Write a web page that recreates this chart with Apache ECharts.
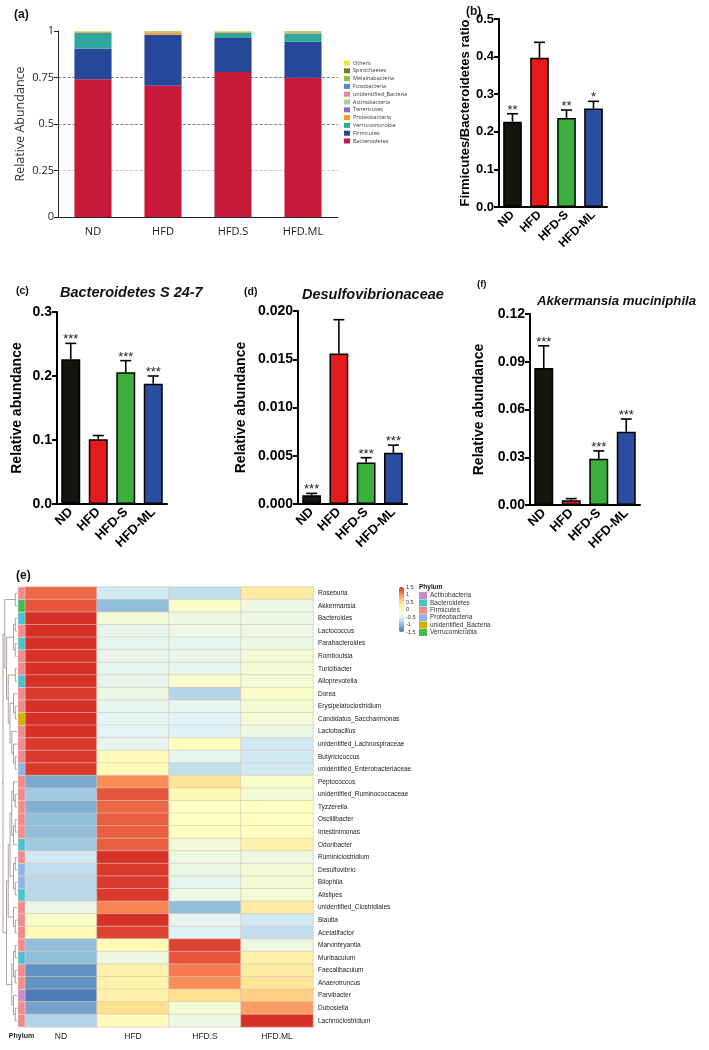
<!DOCTYPE html>
<html><head><meta charset="utf-8">
<script src="https://cdn.jsdelivr.net/npm/echarts@6/dist/echarts.min.js"></script>
<style>html,body{margin:0;padding:0;background:#fff}#c{width:709px;height:1050px}</style>
</head><body><div id="c"></div><script>
// ---------- DATA ----------
const groupsA = ['ND','HFD','HFD.S','HFD.ML'];
const groupsB = ['ND','HFD','HFD-S','HFD-ML'];
const phylaA = ['Bacteroidetes','Firmicutes','Verrucomicrobia','Proteobacteria','Tenericutes','Actinobacteria','unidentified_Bacteria','Fusobacteria','Melainabacteria','Spirochaetes','Others'];
const abundBacteroidetes = [0.740,0.705,0.780,0.748];
const abundFirmicutes = [0.165,0.273,0.182,0.194];
const abundVerrucomicrobia = [0.085,0.002,0.028,0.044];
const abundProteobacteria = [0.004,0.012,0.004,0.006];
const abundTenericutes = [0.001,0.001,0.001,0.001];
const abundActinobacteria = [0.001,0.002,0.001,0.002];
const abundUnidentified = [0.001,0.001,0.001,0.001];
const abundFusobacteria = [0.0005,0.0005,0.0005,0.0005];
const abundMelainabacteria = [0.001,0.001,0.001,0.001];
const abundSpirochaetes = [0.0005,0.0005,0.0005,0.0005];
const abundOthers = [0.003,0.004,0.003,0.003];

const ratioVals = [0.227,0.397,0.237,0.262];
const ratioErr = [0.021,0.041,0.021,0.019];
const ratioStars = ['**','','**','*'];
const s247Vals = [0.226,0.101,0.206,0.188];
const s247Err = [0.025,0.006,0.018,0.012];
const s247Stars = ['***','','***','***'];
const desulfoVals = [0.0009,0.0156,0.0043,0.0053];
const desulfoErr = [0.0002,0.0035,0.0005,0.0008];
const desulfoStars = ['***','','***','***'];
const akkVals = [0.086,0.003,0.029,0.046];
const akkErr = [0.014,0.001,0.005,0.008];
const akkStars = ['***','','***','***'];

const genera = ['Roseburia','Akkermansia','Bacteroides','Lactococcus','Parabacteroides','Romboutsia','Turicibacter','Alloprevotella','Dorea','Erysipelatoclostridium','Candidatus_Saccharimonas','Lactobacillus','unidentified_Lachnospiraceae','Butyricicoccus','unidentified_Enterobacteriaceae','Peptococcus','unidentified_Ruminococcaceae','Tyzzerella','Oscillibacter','Intestinimonas','Odoribacter','Ruminiclostridium','Desulfovibrio','Bilophila','Alistipes','unidentified_Clostridiales','Blautia','Acetatifactor','Marvinbryantia','Muribaculum','Faecalibaculum','Anaerotruncus','Parvibacter','Dubosiella','Lachnoclostridium'];
const zND   = [1.2,1.3,1.5,1.5,1.5,1.5,1.5,1.5,1.45,1.5,1.5,1.5,1.45,1.45,1.45,-1.15,-0.9,-1.1,-1.0,-1.0,-0.9,-0.6,-0.7,-0.75,-0.75,-0.35,-0.1,0.05,-1.0,-1.0,-1.3,-1.3,-1.45,-1.2,-0.8];
const zHFD  = [-0.6,-1.0,-0.2,-0.4,-0.4,-0.4,-0.4,-0.4,-0.3,-0.4,-0.45,-0.45,-0.4,0.05,0.05,1.0,1.3,1.2,1.25,1.25,1.25,1.5,1.45,1.45,1.45,1.05,1.5,1.4,0.1,-0.3,0.2,0.2,0.2,0.5,0.05];
const zHFDS = [-0.7,-0.1,-0.3,-0.3,-0.4,-0.4,-0.4,-0.1,-0.8,-0.4,-0.5,-0.5,0.0,-0.4,-0.7,0.4,0.1,0.0,0.0,0.0,-0.2,-0.3,-0.3,-0.4,-0.3,-1.0,-0.4,-0.5,1.4,1.3,1.1,1.0,0.5,-0.2,-0.3];
const zHFDML= [0.3,-0.3,-0.3,-0.3,-0.3,-0.2,-0.2,-0.2,-0.1,-0.2,-0.2,-0.3,-0.6,-0.6,-0.6,-0.1,-0.2,0.0,0.0,0.0,0.2,-0.3,-0.2,-0.2,-0.2,0.3,-0.6,-0.7,-0.3,0.2,0.3,0.4,0.6,0.9,1.5];
const rowPhylum = ['F','V','B','F','B','F','F','B','F','F','U','F','F','F','P','F','F','F','F','F','B','F','P','P','B','F','F','F','F','B','F','F','A','F','F'];
const phylumCodes = ['A','B','F','P','U','V'];
const phylumNames = ['Actinobacteria','Bacteroidetes','Firmicutes','Proteobacteria','unidentified_Bacteria','Verrucomicrobia'];
const dendroTree = [[[0,1],[[[2,3],[4,5]],[[6,7],[[8,[9,10]],[11,[12,[13,14]]]]]]],
  [[[[[15,[16,17]],[[18,19],20]],[[21,22],[23,24]]],[25,[26,27]]],[[[28,29],[30,31]],[32,[33,34]]]]];
const scaleTicks = [-1.5,1.5,0.5];

// ---------- STYLE ----------
const FONT = '"Liberation Sans", Arial, sans-serif';
const FONT_A = '"Open Sans", "Noto Sans", sans-serif';
const colorsA = {Bacteroidetes:'#c8193a',Firmicutes:'#26479a',Verrucomicrobia:'#2fa79f',Proteobacteria:'#f39a1e',Tenericutes:'#8a69bd',Actinobacteria:'#a5d69a',unidentified_Bacteria:'#ea8a8e',Fusobacteria:'#4a8fd0',Melainabacteria:'#8cc53e',Spirochaetes:'#787a22',Others:'#f2e532'};
const abundByPhylum = {Bacteroidetes:abundBacteroidetes,Firmicutes:abundFirmicutes,Verrucomicrobia:abundVerrucomicrobia,Proteobacteria:abundProteobacteria,Tenericutes:abundTenericutes,Actinobacteria:abundActinobacteria,unidentified_Bacteria:abundUnidentified,Fusobacteria:abundFusobacteria,Melainabacteria:abundMelainabacteria,Spirochaetes:abundSpirochaetes,Others:abundOthers};
const barColors = ['#15150d','#e41b1b','#3cae3c','#2b4ea0'];
const phylumColors = {A:'#c98cc8',B:'#4cc2cc',F:'#f08c8c',P:'#8fb4e3',U:'#d4b000',V:'#4cb84c'};
const pheat = ['#4575B4','#91BFDB','#E0F3F8','#FFFFBF','#FEE090','#FC8D59','#D73027'];

const grid = [
  {left:58, top:31, width:280, height:186},
  {left:499, top:19, width:108, height:188},
  {left:57, top:312, width:110, height:192},
  {left:298, top:311, width:109, height:193},
  {left:530, top:314, width:110, height:191},
  {left:25, top:587, width:288, height:440},
  {left:18, top:587, width:7, height:440},
  {left:2, top:587, width:15, height:440},
  {left:399, top:587, width:5, height:45}
];
const xAxis = [], yAxis = [], series = [];

// panel a
xAxis.push({gridIndex:0, type:'category', data:groupsA,
  axisLine:{lineStyle:{color:'#222'}}, axisTick:{length:5, lineStyle:{color:'#222'}},
  axisLabel:{fontSize:11, color:'#222', fontFamily:FONT_A, margin:9}});
yAxis.push({gridIndex:0, type:'value', min:0, max:1, interval:0.25,
  axisLine:{show:true, lineStyle:{color:'#222'}}, axisTick:{show:true, length:4, lineStyle:{color:'#222'}},
  axisLabel:{fontSize:11, color:'#222', fontFamily:FONT_A, margin:4},
  splitLine:{show:true, lineStyle:{type:'dashed', width:0.8, color:['rgba(0,0,0,0)','#bbb','#666','#666','rgba(0,0,0,0)']}},
  name:'Relative Abundance', nameLocation:'middle', nameGap:31,
  nameTextStyle:{fontSize:12.5, color:'#333', fontFamily:FONT_A}});
phylaA.forEach(p => series.push({name:p, type:'bar', stack:'a', xAxisIndex:0, yAxisIndex:0,
  barWidth:'53%', data:abundByPhylum[p], itemStyle:{color:colorsA[p]}, emphasis:{disabled:true}}));

// bar panels
function barPanel(gi, vals, errs, stars, yMax, interval, dec, yName, nameGap, lblSize) {
  xAxis.push({gridIndex:gi, type:'category', data:groupsB,
    axisLine:{lineStyle:{color:'#000', width:2}},
    axisTick:{alignWithLabel:true, length:5, lineStyle:{color:'#000', width:2}},
    axisLabel:{rotate:45, fontWeight:'bold', fontSize:lblSize, color:'#000', fontFamily:FONT, margin:6, interval:0}});
  yAxis.push({gridIndex:gi, type:'value', min:0, max:yMax, interval:interval,
    axisLine:{show:true, lineStyle:{color:'#000', width:2}},
    axisTick:{show:true, length:5, lineStyle:{color:'#000', width:2}},
    splitLine:{show:false},
    axisLabel:{fontWeight:'bold', fontSize:lblSize+1, color:'#000', fontFamily:FONT, margin:5, formatter:v=>v.toFixed(dec)},
    name:yName, nameLocation:'middle', nameGap:nameGap,
    nameTextStyle:{fontWeight:'bold', fontSize:lblSize+1, color:'#000', fontFamily:FONT}});
  series.push({type:'bar', xAxisIndex:gi, yAxisIndex:gi, barWidth:'69%',
    data: vals.map((v,i)=>({value:v, itemStyle:{color:barColors[i]}})),
    itemStyle:{borderColor:'#000', borderWidth:1.5}, emphasis:{disabled:true}});
  series.push({type:'custom', xAxisIndex:gi, yAxisIndex:gi, z:5, clip:false,
    data: vals.map((v,i)=>[i, v, v+errs[i]]),
    renderItem:(params, api)=>{
      const p1 = api.coord([api.value(0), api.value(1)]);
      const p2 = api.coord([api.value(0), api.value(2)]);
      return {type:'group', children:[
        {type:'line', shape:{x1:p1[0], y1:p1[1], x2:p2[0], y2:p2[1]}, style:{stroke:'#000', lineWidth:1.6}},
        {type:'line', shape:{x1:p2[0]-5.5, y1:p2[1], x2:p2[0]+5.5, y2:p2[1]}, style:{stroke:'#000', lineWidth:1.6}},
        {type:'text', style:{text:stars[params.dataIndex], x:p2[0], y:p2[1]+3, align:'center', verticalAlign:'bottom', fontSize:13, fill:'#222', fontFamily:FONT}}
      ]};
    }});
}
barPanel(1, ratioVals, ratioErr, ratioStars, 0.5, 0.1, 1, 'Firmicutes/Bacteroidetes ratio', 25, 12);
barPanel(2, s247Vals, s247Err, s247Stars, 0.3, 0.1, 1, 'Relative abundance', 33, 13);
barPanel(3, desulfoVals, desulfoErr, desulfoStars, 0.02, 0.005, 3, 'Relative abundance', 50, 13);
barPanel(4, akkVals, akkErr, akkStars, 0.12, 0.03, 2, 'Relative abundance', 44, 13);

// heatmap
xAxis.push({gridIndex:5, type:'category', data:groupsA, axisLine:{show:false}, axisTick:{show:false},
  axisLabel:{fontSize:8.5, color:'#222', fontFamily:FONT, margin:5}, splitLine:{show:false}});
yAxis.push({gridIndex:5, type:'category', data:genera, inverse:true, position:'right',
  axisLine:{show:false}, axisTick:{show:false}, splitLine:{show:false},
  axisLabel:{fontSize:6.5, color:'#222', fontFamily:FONT, margin:5, interval:0}});
const heatData = [];
const zCols = [zND, zHFD, zHFDS, zHFDML];
genera.forEach((g, r) => zCols.forEach((col, c) => heatData.push([c, r, col[r]])));
const heatIdx = series.length;
series.push({type:'heatmap', xAxisIndex:5, yAxisIndex:5, data:heatData,
  itemStyle:{borderColor:'#d6c6be', borderWidth:0.6}, emphasis:{disabled:true}});

// phylum strip
xAxis.push({gridIndex:6, type:'category', data:['Phylum'], axisLine:{show:false}, axisTick:{show:false},
  axisLabel:{fontSize:7, fontWeight:'bold', color:'#222', fontFamily:FONT, margin:6}});
yAxis.push({gridIndex:6, type:'category', data:genera, inverse:true, show:false});
phylumCodes.forEach((code, k) => {
  const rows = [];
  rowPhylum.forEach((p, r) => { if (p === code) rows.push([0, r]); });
  series.push({name:'ph:' + phylumNames[k], type:'custom', xAxisIndex:6, yAxisIndex:6,
    itemStyle:{color:phylumColors[code]}, data:rows,
    renderItem:(params, api)=>{
      const c = api.coord([api.value(0), api.value(1)]);
      const s = api.size([1, 1]);
      return {type:'rect', shape:{x:c[0]-s[0]/2, y:c[1]-s[1]/2, width:s[0], height:s[1]},
        style:{fill:api.visual('color'), stroke:'#e6d8d2', lineWidth:0.5}};
    }});
});

// dendrogram
const segs = [];
function layoutTree(node) {
  if (typeof node === 'number') return {y:node, h:0};
  const a = layoutTree(node[0]), b = layoutTree(node[1]);
  const h = Math.max(a.h, b.h) + 1;
  segs.push([a.h, a.y, h, a.y], [b.h, b.y, h, b.y], [h, a.y, h, b.y]);
  return {y:(a.y + b.y) / 2, h:h};
}
const rootInfo = layoutTree(dendroTree);
segs.push([rootInfo.h, rootInfo.y, rootInfo.h + 0.6, rootInfo.y]);
xAxis.push({gridIndex:7, type:'value', min:0, max:rootInfo.h + 0.6, inverse:true, show:false});
yAxis.push({gridIndex:7, type:'value', min:-0.5, max:genera.length - 0.5, inverse:true, show:false});
series.push({type:'custom', xAxisIndex:7, yAxisIndex:7, data:segs, clip:false,
  renderItem:(params, api)=>{
    const p1 = api.coord([api.value(0), api.value(1)]);
    const p2 = api.coord([api.value(2), api.value(3)]);
    return {type:'line', shape:{x1:p1[0], y1:p1[1], x2:p2[0], y2:p2[1]}, style:{stroke:'#8d7a74', lineWidth:0.7}};
  }});

// colour scale axis
xAxis.push({gridIndex:8, type:'value', show:false, min:0, max:1});
yAxis.push({gridIndex:8, type:'value', min:scaleTicks[0], max:scaleTicks[1], interval:scaleTicks[2], position:'right',
  axisLine:{show:false}, axisTick:{show:false}, splitLine:{show:false},
  axisLabel:{fontSize:5.5, color:'#333', fontFamily:FONT, margin:2}});

const titleStyle = {fontSize:14.5, fontWeight:'bold', fontStyle:'italic', color:'#111', fontFamily:FONT};
const option = {
  animation:false,
  backgroundColor:'#fff',
  textStyle:{fontFamily:FONT},
  title:[
    {text:'(a)', left:9, top:4, textStyle:{fontSize:12, fontWeight:'bold', color:'#111', fontFamily:FONT}},
    {text:'(b)', left:461, top:1, textStyle:{fontSize:12, fontWeight:'bold', color:'#111', fontFamily:FONT}},
    {text:'(c)', left:11, top:281, textStyle:{fontSize:10.5, fontWeight:'bold', color:'#111', fontFamily:FONT}},
    {text:'Bacteroidetes S 24-7', left:55, top:280, textStyle:titleStyle},
    {text:'(d)', left:239, top:282, textStyle:{fontSize:10.5, fontWeight:'bold', color:'#111', fontFamily:FONT}},
    {text:'Desulfovibrionaceae', left:297, top:282, textStyle:titleStyle},
    {text:'(f)', left:472, top:274, textStyle:{fontSize:9.5, fontWeight:'bold', color:'#111', fontFamily:FONT}},
    {text:'Akkermansia muciniphila', left:532, top:290, padding:[5,0,5,5], textStyle:Object.assign({}, titleStyle, {fontSize:13.2})},
    {text:'(e)', left:11, top:565, textStyle:{fontSize:12, fontWeight:'bold', color:'#111', fontFamily:FONT}},
    {text:'Phylum', left:419, top:584, padding:0, textStyle:{fontSize:6.5, fontWeight:'bold', color:'#111', fontFamily:FONT}}
  ],
  legend:[
    {data:phylaA.slice().reverse(), orient:'vertical', left:344, top:60, padding:0,
      itemWidth:6, itemHeight:5, itemGap:1.8, icon:'rect', selectedMode:false,
      textStyle:{fontSize:5.5, color:'#333', fontFamily:FONT_A, padding:[0,0,0,-2]}},
    {data:phylumNames.map(n=>'ph:' + n), orient:'vertical', left:419, top:592, padding:0,
      itemWidth:8, itemHeight:7, itemGap:0.4, icon:'rect', selectedMode:false,
      formatter:n=>n.replace('ph:',''),
      textStyle:{fontSize:6.5, color:'#333', fontFamily:FONT, padding:[0,0,0,-2]}}
  ],
  visualMap:[{type:'continuous', min:-1.5, max:1.5, seriesIndex:heatIdx, left:399, top:587,
    itemWidth:5, itemHeight:45, padding:0, calculable:false, inRange:{color:pheat}}],
  grid, xAxis, yAxis, series
};
const chart = echarts.init(document.getElementById('c'), null, {renderer:'canvas'});
chart.setOption(option);
</script></body></html>
